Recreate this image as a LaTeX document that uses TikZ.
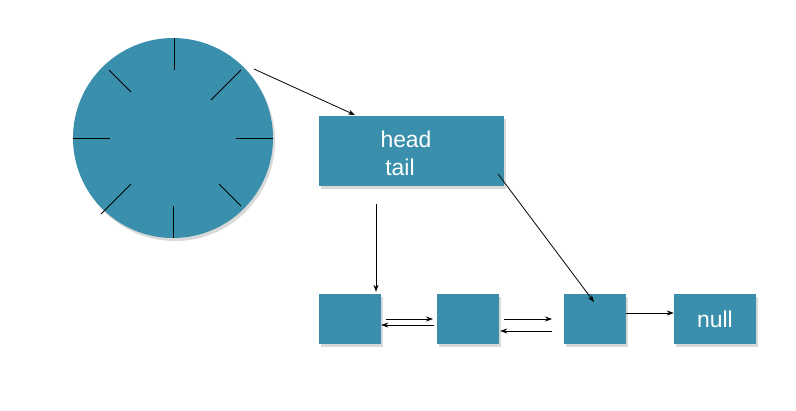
\documentclass[tikz,border=0pt]{standalone}
\usepackage{fontspec}
\setmainfont{Liberation Sans}
\usetikzlibrary{arrows.meta,shadows}
\definecolor{tealbox}{HTML}{3A90AC}
\begin{document}
\begin{tikzpicture}[x=1bp,y=-1bp,
  fillbox/.style={fill=tealbox,draw=none,inner sep=0pt,
    drop shadow={opacity=0.3,shadow xshift=2bp,shadow yshift=-3bp}},
  arr/.style={-{Stealth[length=7bp,width=5bp]},line width=0.8bp},
  tick/.style={line width=0.9bp},
  lbl/.style={text=white,font=\fontsize{23}{23}\selectfont,anchor=base,inner sep=0pt}]
\useasboundingbox (0,0) rectangle (796,410);

% clock circle
\node[fillbox,circle,minimum size=200bp] (clk) at (173,138) {};
\draw[tick] (174,38) -- (174,70);
\draw[tick] (173,206) -- (173,238);
\draw[tick] (73,138) -- (110,138);
\draw[tick] (236,138) -- (273,138);
\draw[tick] (241,70) -- (211,100);
\draw[tick] (109,70) -- (131,92);
\draw[tick] (219,184) -- (241,206);
\draw[tick] (131,184) -- (101,214);

% head/tail box
\node[fillbox,minimum width=185bp,minimum height=70bp] (ht) at (411.5,151) {};
\node[lbl] (hd) at (406,147) {head};
\node[lbl] (tl) at (400,175) {tail};

% list boxes
\node[fillbox,minimum width=62bp,minimum height=50bp] (b1) at (350,319) {};
\node[fillbox,minimum width=62bp,minimum height=50bp] (b2) at (468,319) {};
\node[fillbox,minimum width=62bp,minimum height=50bp] (b3) at (595,319) {};
\node[fillbox,minimum width=82bp,minimum height=50bp] (nul) at (715,319) {};
\node[lbl] (nt) at (715,327) {null};

% connector ends
\coordinate (c1) at (254,69);
\coordinate (htin) at (355,115);
\coordinate (v1) at (376,204);
\coordinate (htout) at (498,174);
\coordinate (b3in) at (594,302);
\coordinate (r1s) at (386,319);
\coordinate (r1e) at (433,319);
\coordinate (l1s) at (434,325);
\coordinate (r2s) at (504,319);
\coordinate (r2e) at (552,319);
\coordinate (l2s) at (552,331);

\draw[arr] (c1) -- (htin);
\draw[arr] (v1) -- ([yshift=2bp]v1 |- b1.north);
\draw[arr] (htout) -- (b3in);
\draw[arr] (r1s) -- (r1e);
\draw[arr] (l1s) -- (l1s -| b1.east);
\draw[arr] (r2s) -- (r2e);
\draw[arr] (l2s) -- ([xshift=1bp]l2s -| b2.east);
\draw[arr] ([yshift=6bp]b3.east) -- ([yshift=6bp]nul.west);
\end{tikzpicture}
\end{document}
